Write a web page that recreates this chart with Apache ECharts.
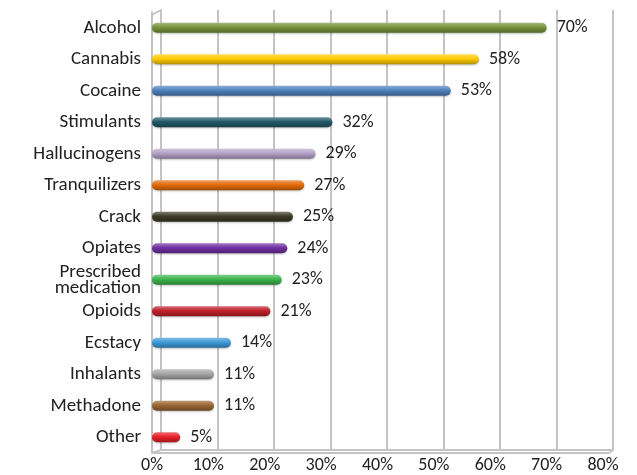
<!DOCTYPE html>
<html><head><meta charset="utf-8">
<script src="https://cdn.jsdelivr.net/npm/echarts@6/dist/echarts.min.js"></script>
<style>html,body{margin:0;padding:0;background:#fff}#c{width:637px;height:475px}</style>
</head><body><div id="c"></div>
<script>
const categories = ["Alcohol","Cannabis","Cocaine","Stimulants","Hallucinogens","Tranquilizers","Crack","Opiates","Prescribed\nmedication","Opioids","Ecstacy","Inhalants","Methadone","Other"];
const values = [70,58,53,32,29,27,25,24,23,21,14,11,11,5];
const colors = ["#77933c","#ffcc00","#4f81bd","#215968","#b3a2c7","#e46c0a","#3d3b24","#7030a0","#3cb44b","#c0202a","#3d9ad8","#a6a6a6","#996633","#e8202a"];
const xTicks = [0,10,20,30,40,50,60,70,80];

function shade(hex, f){
  const n=parseInt(hex.slice(1),16);let r=n>>16,g=(n>>8)&255,b=n&255;
  if(f>0){r=r+(255-r)*f;g=g+(255-g)*f;b=b+(255-b)*f;}else{r=r*(1+f);g=g*(1+f);b=b*(1+f);}
  return 'rgb('+Math.round(r)+','+Math.round(g)+','+Math.round(b)+')';
}
const font = 'Carlito, Lato, sans-serif';
const wall = '#c4c4c4';
const xMin = xTicks[0], xMax = xTicks[xTicks.length-1];
const chart = echarts.init(document.getElementById('c'));
chart.setOption({
  animation:false,
  grid:[
    {left:152,right:34,top:12,bottom:22},
    {left:161,right:24,top:10,bottom:25}
  ],
  xAxis:[
    {gridIndex:0,type:'value',min:xMin,max:xMax,interval:10,
      axisLine:{show:true,lineStyle:{color:wall,width:2}},
      axisTick:{show:false},splitLine:{show:false},
      axisLabel:{formatter:'{value}%',color:'#222',fontSize:18,fontFamily:font,margin:3}},
    {gridIndex:1,type:'value',min:xMin,max:xMax,interval:10,
      axisLine:{show:true,lineStyle:{color:wall,width:2}},
      axisTick:{show:false},axisLabel:{show:false},
      splitLine:{show:true,lineStyle:{color:wall,width:2}}}
  ],
  yAxis:[
    {gridIndex:0,type:'category',inverse:true,data:categories,
      axisLine:{show:true,lineStyle:{color:wall,width:2}},
      axisTick:{show:false},
      axisLabel:{color:'#222',fontSize:19,fontFamily:font,margin:11,lineHeight:16}},
    {gridIndex:1,type:'category',inverse:true,data:categories,
      axisLine:{show:true,lineStyle:{color:wall,width:2}},
      axisTick:{show:false},axisLabel:{show:false},splitLine:{show:false}}
  ],
  series:[{type:'bar',xAxisIndex:0,yAxisIndex:0,barWidth:10,z:5,
    data:values.map((v,i)=>({value:v,itemStyle:{
      color:new echarts.graphic.LinearGradient(0,0,0,1,[
        {offset:0,color:shade(colors[i],0.35)},
        {offset:0.45,color:colors[i]},
        {offset:1,color:shade(colors[i],-0.3)}]),
      borderRadius:5,shadowBlur:2,shadowColor:'rgba(0,0,0,0.25)',shadowOffsetY:1}})),
    label:{show:true,position:'right',distance:10,formatter:'{c}%',color:'#222',fontSize:18,fontFamily:font}
  }]
});
// 3D wall connectors (decoration, derived from the two grids)
const W = chart.getWidth(), H = chart.getHeight();
const fl = 152, fr = W-34, ft = 12, fb = H-22;
const bl = 161, br = W-24, bt = 10, bb = H-25;
chart.setOption({graphic:[
  {type:'polyline',shape:{points:[[fl,ft+3],[bl,bt]]},style:{stroke:wall,lineWidth:2,fill:null}},
  {type:'polyline',shape:{points:[[fl,fb],[bl,bb]]},style:{stroke:wall,lineWidth:2,fill:null}},
  {type:'polyline',shape:{points:[[fr,fb],[br-4,fb],[br,bb]]},style:{stroke:wall,lineWidth:2,fill:null}}
]});
</script></body></html>
